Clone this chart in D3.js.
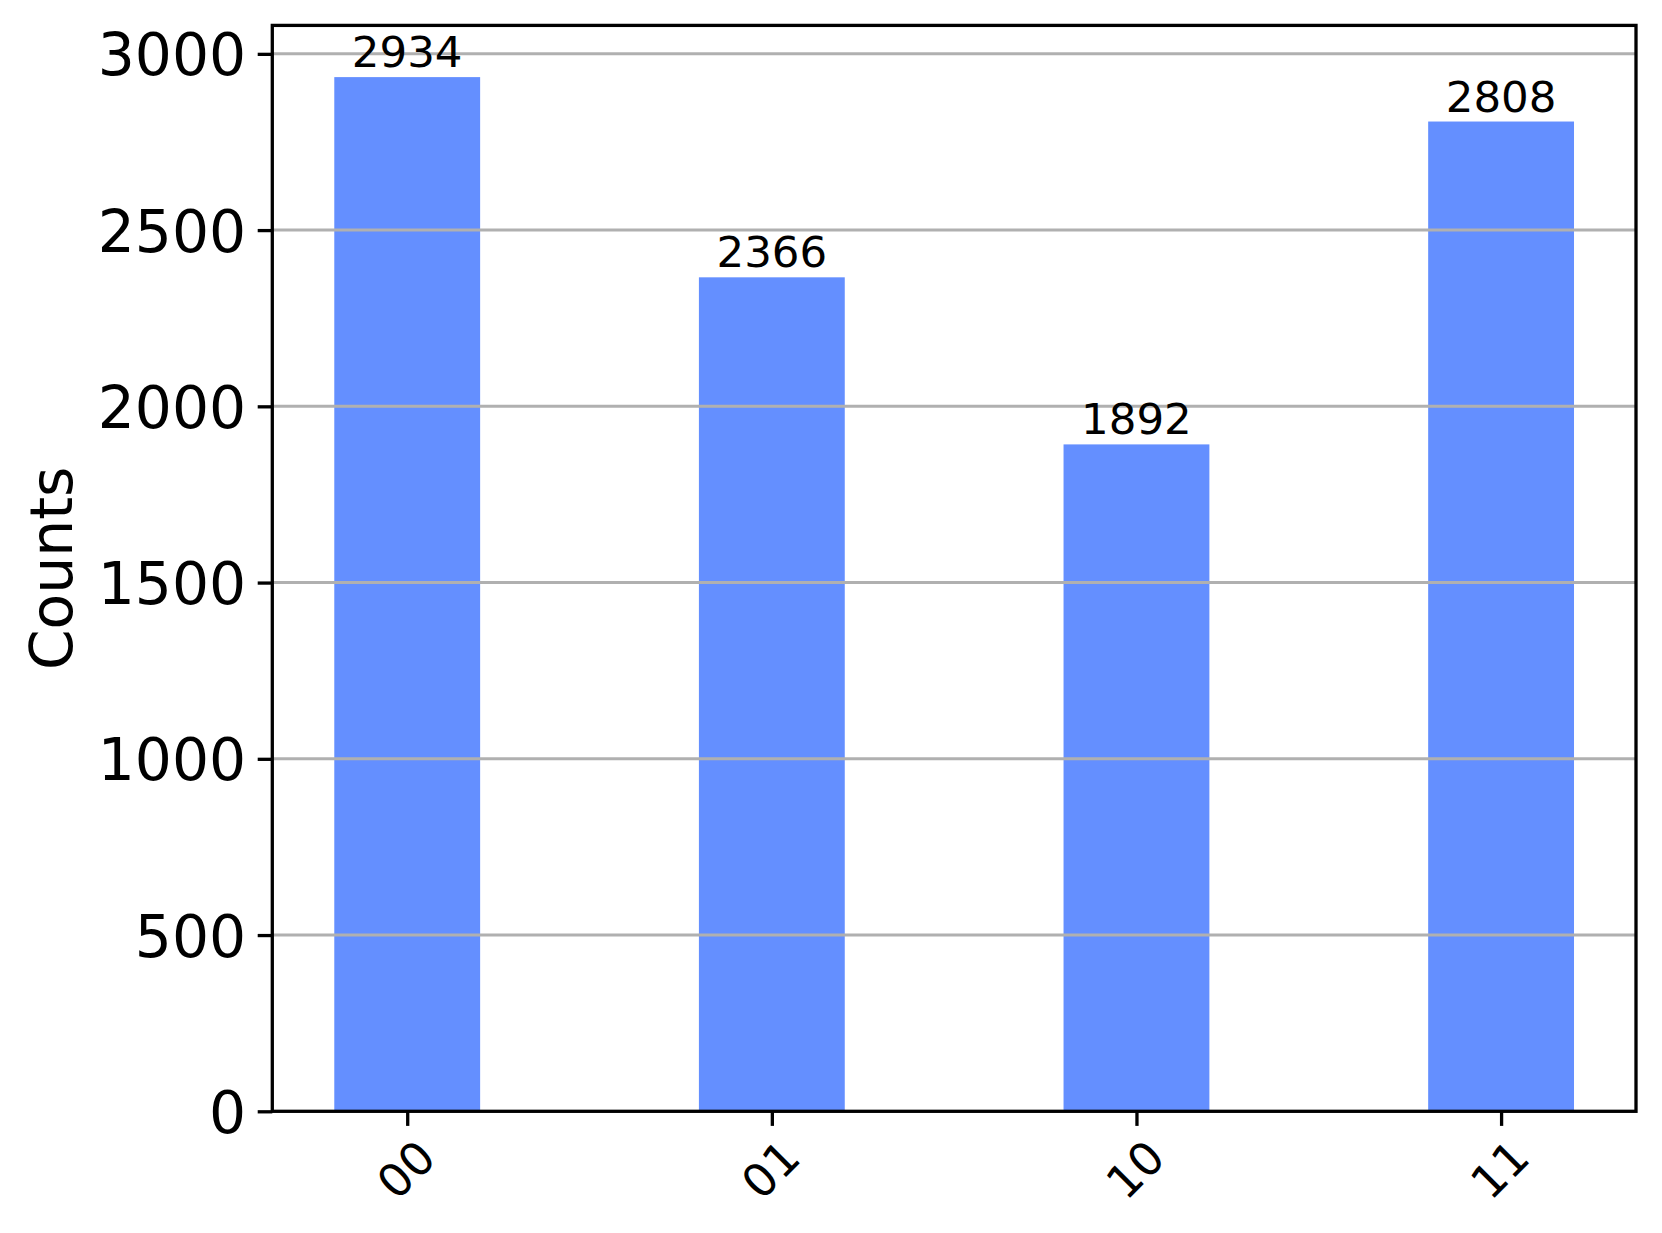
<!DOCTYPE html>
<html>
<head>
<meta charset="utf-8">
<script src="https://cdn.jsdelivr.net/npm/d3@7"></script>
<style>
  html, body { margin: 0; padding: 0; background: #ffffff; }
  svg { display: block; font-family: "DejaVu Sans", sans-serif; }
</style>
</head>
<body>
<script>
const categories = ["00", "01", "10", "11"];
const counts = [2934, 2366, 1892, 2808];
const yTicks = [0, 500, 1000, 1500, 2000, 2500, 3000];
const yLabel = "Counts";

(function () {
const W = 1662, H = 1233;
const pLeft = 272.3, pRight = 1636, pTop = 25.4, pBottom = 1111.3;
const barWidth = 0.4;

const svg = d3.select("body").append("svg").attr("width", W).attr("height", H);

const x = d3.scaleLinear().domain([-0.37, categories.length - 1 + 0.37]).range([pLeft, pRight]);
const y = d3.scaleLinear().domain([0, d3.max(counts) * 1.05]).range([pBottom, pTop]);

// bars
svg.append("g").selectAll("rect").data(counts).join("rect")
  .attr("x", (d, i) => x(i - barWidth / 2))
  .attr("width", (d, i) => x(i + barWidth / 2) - x(i - barWidth / 2))
  .attr("y", d => y(d))
  .attr("height", d => y(0) - y(d))
  .attr("fill", "#648fff");

// grid lines (drawn over bars)
svg.append("g").selectAll("line").data(yTicks.filter(t => t > 0)).join("line")
  .attr("x1", pLeft).attr("x2", pRight)
  .attr("y1", d => y(d)).attr("y2", d => y(d))
  .attr("stroke", "#b0b0b0").attr("stroke-width", 3);

// bar value labels
svg.append("g").selectAll("text").data(counts).join("text")
  .attr("x", (d, i) => x(i))
  .attr("y", d => y(d) - 10)
  .attr("text-anchor", "middle")
  .attr("font-size", 43.5)
  .attr("fill", "#000")
  .text(d => d);

// y axis
const yAxis = d3.axisLeft(y).tickValues(yTicks).tickSize(14.6).tickPadding(11.6).tickFormat(d3.format("d"));
const gy = svg.append("g").attr("transform", `translate(${pLeft},0)`).call(yAxis);
gy.select(".domain").remove();
gy.selectAll(".tick line").attr("stroke", "#000").attr("stroke-width", 3.3);
gy.selectAll(".tick text").attr("font-size", 58.3).attr("fill", "#000")
  .attr("font-family", "DejaVu Sans").attr("dy", "0.36em");

// x axis
const xAxis = d3.axisBottom(x).tickValues(categories.map((c, i) => i)).tickSize(14.6).tickFormat(i => categories[i]);
const gx = svg.append("g").attr("transform", `translate(0,${pBottom})`).call(xAxis);
gx.select(".domain").remove();
gx.selectAll(".tick line").attr("stroke", "#000").attr("stroke-width", 3.3);
gx.selectAll(".tick text")
  .attr("font-size", 46).attr("fill", "#000").attr("font-family", "DejaVu Sans")
  .attr("y", 0).attr("dy", "0.36em").attr("text-anchor", "middle")
  .attr("transform", "translate(-2,58) rotate(-45)");

// spines
svg.append("rect")
  .attr("x", pLeft).attr("y", pTop)
  .attr("width", pRight - pLeft).attr("height", pBottom - pTop)
  .attr("fill", "none").attr("stroke", "#000").attr("stroke-width", 3.3);

// y label
svg.append("text")
  .attr("transform", `translate(72,${(pTop + pBottom) / 2}) rotate(-90)`)
  .attr("text-anchor", "middle")
  .attr("font-size", 58.3)
  .attr("fill", "#000")
  .text(yLabel);
})();
</script>
</body>
</html>
